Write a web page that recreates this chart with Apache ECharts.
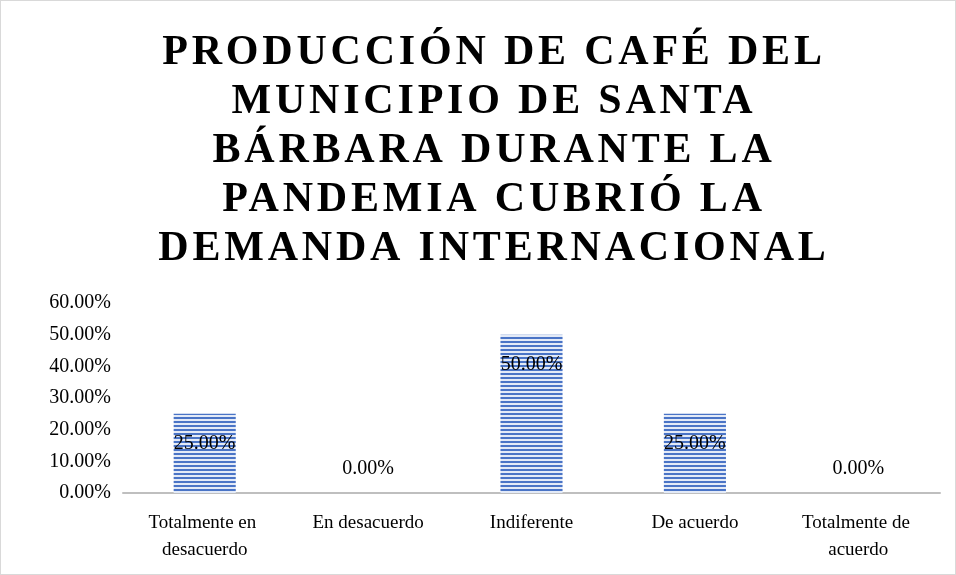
<!DOCTYPE html>
<html>
<head>
<meta charset="utf-8">
<script src="https://cdn.jsdelivr.net/npm/echarts@6/dist/echarts.min.js"></script>
<style>
  html, body { margin: 0; padding: 0; background: #fff; }
  #main { width: 956px; height: 575px; box-sizing: border-box; border: 1px solid #d9d9d9; }
</style>
</head>
<body>
<div id="main"></div>
<script>
const categories = ["Totalmente en desacuerdo", "En desacuerdo", "Indiferente", "De acuerdo", "Totalmente de acuerdo"];
const values = [0.25, 0, 0.5, 0.25, 0];
const titleText = "PRODUCCIÓN DE CAFÉ DEL\nMUNICIPIO DE SANTA\nBÁRBARA DURANTE LA\nPANDEMIA CUBRIÓ LA\nDEMANDA INTERNACIONAL";

// the title in the original is letter-spaced; echarts has no option for it,
// so set it on the canvas for the 42px title font only
const origFill = CanvasRenderingContext2D.prototype.fillText;
CanvasRenderingContext2D.prototype.fillText = function (t, x, y, w) {
  this.letterSpacing = this.font.indexOf("42px") >= 0 ? "3.8px" : "0px";
  return w === undefined ? origFill.call(this, t, x, y) : origFill.call(this, t, x, y, w);
};

// striped fill like the original bars
function stripes() {
  const c = document.createElement("canvas");
  c.width = 4; c.height = 4;
  const ctx = c.getContext("2d");
  ctx.fillStyle = "#e3eaf7";
  ctx.fillRect(0, 0, 4, 4);
  ctx.fillStyle = "#4a74c6";
  ctx.fillRect(0, 0, 4, 2);
  return c;
}

const myChart = echarts.init(document.getElementById("main"));
const pct = v => (v * 100).toFixed(2) + "%";

const option = {
  animation: false,
  title: {
    text: titleText,
    left: 488,
    textAlign: "center",
    top: 23,
    textStyle: {
      fontFamily: "Liberation Serif",
      fontWeight: "bold",
      fontSize: 42,
      lineHeight: 49,
      color: "#000"
    }
  },
  grid: { left: 122, right: 15, top: 302, bottom: 81 },
  xAxis: {
    type: "category",
    data: categories,
    axisLine: { lineStyle: { color: "#bfbfbf", width: 2 } },
    axisTick: { show: false },
    axisLabel: {
      fontFamily: "Liberation Serif",
      fontSize: 19,
      color: "#000",
      lineHeight: 27,
      margin: 17,
      width: 150,
      overflow: "break",
      interval: 0
    }
  },
  yAxis: {
    type: "value",
    min: 0,
    max: 0.6,
    interval: 0.1,
    splitLine: { show: false },
    axisLine: { show: false },
    axisTick: { show: false },
    axisLabel: {
      fontFamily: "Liberation Serif",
      fontSize: 20,
      color: "#000",
      margin: 12,
      formatter: v => pct(v)
    }
  },
  series: [{
    type: "bar",
    barWidth: "38%",
    itemStyle: { color: { image: stripes(), repeat: "repeat" } },
    data: values.map(v => ({
      value: v,
      label: v > 0
        ? { position: "insideTop", distance: 20 }
        : { position: "top", distance: 14 }
    })),
    label: {
      show: true,
      fontFamily: "Liberation Serif",
      fontSize: 20,
      color: "#000",
      formatter: p => pct(p.value)
    }
  }]
};
myChart.setOption(option);
</script>
</body>
</html>
